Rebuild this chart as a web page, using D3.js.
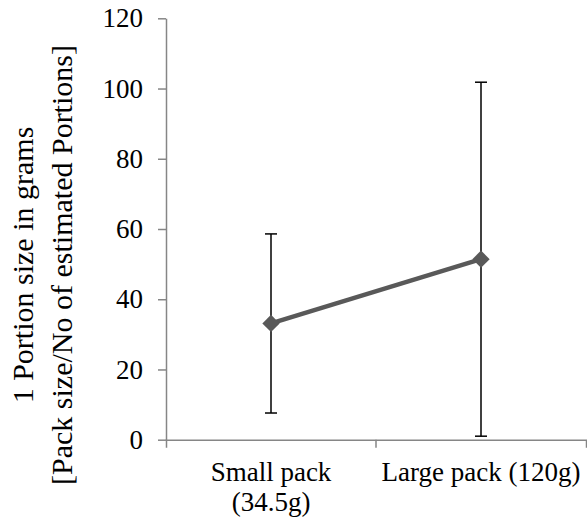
<!DOCTYPE html>
<html lang="en">
<head>
  <meta charset="UTF-8">
  <title>Portion size</title>
  <script src="https://d3js.org/d3.v7.min.js"></script>
  <style>
    body { margin: 0; background: #fff; }
    text { font-family: "Liberation Serif", "Times New Roman", serif; fill: #000; }
    .axis path, .axis line { stroke: #868686; stroke-width: 1.5; fill: none; }
  </style>
</head>
<body>
  <svg id="svg" width="587" height="520"></svg>
  <script>
    // data
    var categories = ['Small pack (34.5g)', 'Large pack (120g)']
    var tickLines = [['Small pack', '(34.5g)'], ['Large pack (120g)']]
    var means = [33.1, 51.4]
    var sd = [25.5, 50.4]
    var yTicks = [0, 20, 40, 60, 80, 100, 120]

    var margin = { top: 18.3, right: 1, bottom: 80.3, left: 166 }
    var width = 587 - margin.left - margin.right
    var height = 520 - margin.top - margin.bottom

    var svg = d3.select('#svg')
    var g = svg.append('g')
      .attr('transform', 'translate(' + margin.left + ',' + margin.top + ')')

    var x = d3.scaleBand().domain(categories).range([0, width])
    var y = d3.scaleLinear().domain([0, 120]).range([height, 0])

    // y axis
    var yAxis = d3.axisLeft(y).tickValues(yTicks).tickSize(8).tickSizeOuter(0).tickPadding(15)
    var gy = g.append('g').attr('class', 'axis').call(yAxis)
    gy.selectAll('text').style('font-size', '27px')

    // x axis (ticks at band edges)
    var xAxis = d3.axisBottom(x).tickSizeInner(0).tickSizeOuter(8).tickFormat('')
    var gx = g.append('g').attr('class', 'axis')
      .attr('transform', 'translate(0,' + height + ')')
      .call(xAxis)
    gx.selectAll('.tick').remove()
    gx.selectAll('.edge')
      .data(categories.slice(1))
      .enter().append('line')
      .attr('x1', d => x(d)).attr('x2', d => x(d))
      .attr('y1', 0).attr('y2', 8)

    var lab = gx.selectAll('.lab')
      .data(categories)
      .enter().append('text')
      .attr('class', 'lab')
      .attr('text-anchor', 'middle')
      .attr('transform', d => 'translate(' + (x(d) + x.bandwidth() / 2) + ',41)')
      .style('font-size', '27px')
    lab.selectAll('tspan')
      .data((d, i) => tickLines[i])
      .enter().append('tspan')
      .attr('x', 0)
      .attr('dy', (d, i) => i === 0 ? 0 : 30)
      .text(d => d)

    // error bars
    var cap = 6
    var eb = g.selectAll('.err')
      .data(categories)
      .enter().append('g')
      .attr('stroke', '#000')
      .attr('stroke-width', 1.5)
    eb.append('line')
      .attr('x1', d => x(d) + x.bandwidth() / 2)
      .attr('x2', d => x(d) + x.bandwidth() / 2)
      .attr('y1', (d, i) => y(means[i] + sd[i]))
      .attr('y2', (d, i) => y(means[i] - sd[i]))
    eb.append('line')
      .attr('x1', d => x(d) + x.bandwidth() / 2 - cap)
      .attr('x2', d => x(d) + x.bandwidth() / 2 + cap)
      .attr('y1', (d, i) => y(means[i] + sd[i]))
      .attr('y2', (d, i) => y(means[i] + sd[i]))
    eb.append('line')
      .attr('x1', d => x(d) + x.bandwidth() / 2 - cap)
      .attr('x2', d => x(d) + x.bandwidth() / 2 + cap)
      .attr('y1', (d, i) => y(means[i] - sd[i]))
      .attr('y2', (d, i) => y(means[i] - sd[i]))

    // line + diamond markers
    var line = d3.line()
      .x((d, i) => x(categories[i]) + x.bandwidth() / 2)
      .y(d => y(d))
    g.append('path')
      .datum(means)
      .attr('d', line)
      .attr('fill', 'none')
      .attr('stroke', '#595959')
      .attr('stroke-width', 4.5)

    g.selectAll('.pt')
      .data(means)
      .enter().append('path')
      .attr('d', d3.symbol().type(d3.symbolSquare).size(150))
      .attr('transform', (d, i) => 'translate(' + (x(categories[i]) + x.bandwidth() / 2) + ',' + y(d) + ') rotate(45)')
      .attr('fill', '#595959')

    // y title
    var title = svg.append('text')
      .attr('text-anchor', 'middle')
      .attr('transform', 'translate(33,265) rotate(-90)')
      .style('font-size', '30px')
    title.append('tspan').attr('x', 0).attr('y', 0).text('1 Portion size in grams')
    title.append('tspan').attr('x', 0).attr('y', 39).text('[Pack size/No of estimated Portions]')
  </script>
</body>
</html>
